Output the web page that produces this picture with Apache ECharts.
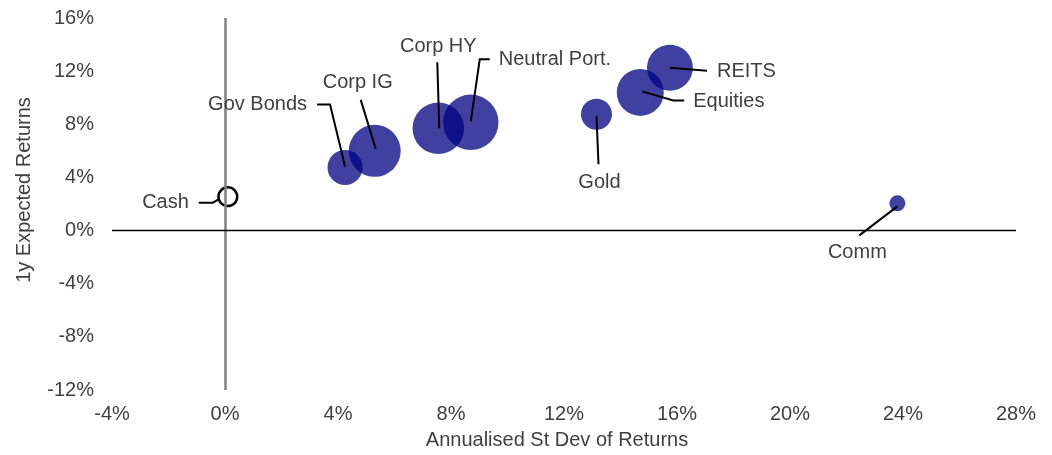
<!DOCTYPE html>
<html>
<head>
<meta charset="utf-8">
<script src="https://cdn.jsdelivr.net/npm/echarts@6/dist/echarts.min.js"></script>
<style>
    html, body { margin: 0; padding: 0; background: #fff; }
    #main { width: 1052px; height: 455px; }
</style>
</head>
<body>
<div id="main"></div>
<script>
// asset classes
var names = ['Cash', 'Gov Bonds', 'Corp IG', 'Corp HY', 'Neutral Port.', 'Gold', 'Equities', 'REITS', 'Comm'];
// annualised st dev of returns (%)
var risk = [0.1, 4.25, 5.3, 7.55, 8.7, 13.15, 14.7, 15.75, 23.8];
// 1y expected returns (%)
var expRet = [2.55, 4.75, 6.0, 7.7, 8.15, 8.75, 10.4, 12.25, 2.05];
// bubble weight
var weight = [22, 77, 169, 166, 192, 60, 138, 132, 16];

var xTicks = [-4, 0, 4, 8, 12, 16, 20, 24, 28];
var yTicks = [-12, -8, -4, 0, 4, 8, 12, 16];

// label placement, pixel offsets from the bubble centre
var labelPos = {
    'Cash':          { t: [-39, 6, 'right'],  l: [[-29, 6], [-15, 6], [-8, 2]] },
    'Gov Bonds':     { t: [-38, -63, 'right'], l: [[-28, -63], [-15, -63], [0, -1]] },
    'Corp IG':       { t: [-17, -68, 'center'], l: [[-14, -51], [1, -2]] },
    'Corp HY':       { t: [0, -82, 'center'], l: [[-1, -66], [1, 0]] },
    'Neutral Port.': { t: [28, -63, 'left'],  l: [[19, -63], [9, -63], [0, -1]] },
    'Gold':          { t: [3, 68, 'center'],  l: [[2, 50], [0, 2]] },
    'Equities':      { t: [53, 9, 'left'],    l: [[44, 8], [33, 8], [2, -1]] },
    'REITS':         { t: [47, 4, 'left'],    l: [[37, 3], [0, 0]] },
    'Comm':          { t: [-40, 49, 'center'], l: [[-38, 32], [0, 3]] }
};

var FONT = 'Liberation Sans, Arial, sans-serif';
var TXT = '#404040';

var bubbles = [];
var labels = [];
for (var i = 0; i < names.length; i++) {
    var item = { name: names[i], value: [risk[i], expRet[i], weight[i]] };
    if (names[i] == 'Cash') {
        item.itemStyle = { color: 'rgba(0,0,0,0)', borderColor: '#000', borderWidth: 2.5, opacity: 1 };
    }
    bubbles.push(item);
    labels.push([risk[i], expRet[i], i]);
}

var myChart = echarts.init(document.getElementById('main'));

option = {
    animation: false,
    grid: { left: 112, right: 36, top: 18, bottom: 65 },
    xAxis: {
        type: 'value',
        min: xTicks[0], max: xTicks[xTicks.length - 1], interval: 4,
        name: 'Annualised St Dev of Returns',
        nameLocation: 'middle', nameGap: 40,
        nameTextStyle: { fontFamily: FONT, fontSize: 20, color: TXT, padding: [0, 14, 0, 0] },
        axisLine: { show: false, onZero: false },
        axisTick: { show: false },
        splitLine: { show: false },
        axisLabel: { formatter: '{value}%', fontFamily: FONT, fontSize: 20, color: TXT, margin: 14 }
    },
    yAxis: {
        type: 'value',
        min: yTicks[0], max: yTicks[yTicks.length - 1], interval: 4,
        name: '1y Expected Returns',
        nameLocation: 'middle', nameGap: 78,
        nameTextStyle: { fontFamily: FONT, fontSize: 20, color: TXT, padding: [0, 0, 0, 28] },
        axisLine: { show: false, onZero: false },
        axisTick: { show: false },
        splitLine: { show: false },
        axisLabel: { formatter: '{value}%', fontFamily: FONT, fontSize: 20, color: TXT, margin: 18 }
    },
    series: [{
        type: 'scatter',
        data: bubbles,
        symbolSize: function (v) { return 4 * Math.sqrt(v[2]); },
        itemStyle: { color: '#000080', opacity: 0.75 },
        z: 2,
        markLine: {
            silent: true,
            symbol: 'none',
            label: { show: false },
            data: [
                { xAxis: 0, lineStyle: { color: '#808080', width: 2.5, type: 'solid' } },
                { yAxis: 0, lineStyle: { color: '#000', width: 1.3, type: 'solid' } }
            ]
        }
    }, {
        type: 'custom',
        data: labels,
        z: 5,
        silent: true,
        renderItem: function (params, api) {
            var c = api.coord([api.value(0), api.value(1)]);
            var p = labelPos[names[api.value(2)]];
            var pts = p.l.map(function (d) { return [c[0] + d[0], c[1] + d[1]]; });
            return {
                type: 'group',
                children: [{
                    type: 'polyline',
                    shape: { points: pts },
                    style: { stroke: '#000', lineWidth: 2, fill: null }
                }, {
                    type: 'text',
                    x: c[0] + p.t[0],
                    y: c[1] + p.t[1],
                    style: {
                        text: names[api.value(2)],
                        fill: TXT,
                        font: '20px ' + FONT,
                        align: p.t[2],
                        verticalAlign: 'middle'
                    }
                }]
            };
        }
    }]
};

myChart.setOption(option);
</script>
</body>
</html>
